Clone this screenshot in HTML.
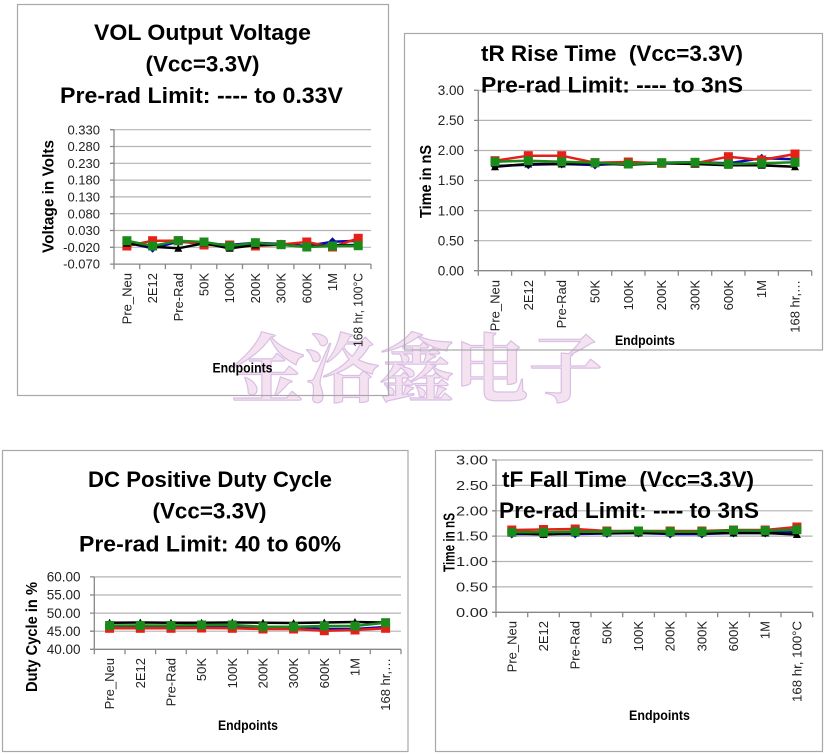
<!DOCTYPE html>
<html><head><meta charset="utf-8"><style>
html,body{margin:0;padding:0;background:#fff;}
svg{display:block;}
text{font-family:"Liberation Sans",Arial,sans-serif;}
.t{font-weight:bold;font-size:22px;fill:#000;}
.yl{font-weight:bold;font-size:16px;fill:#000;}
.ep{font-weight:bold;font-size:14px;fill:#000;}
.tk{font-size:13px;fill:#222;}
.xl{font-size:13px;fill:#222;}
.g{stroke:#b4b4b4;stroke-width:1.2;}
.ax{stroke:#888;stroke-width:1.3;fill:none;}
.box{fill:none;stroke:#a8a8a8;stroke-width:1.2;}
.sb{fill:none;stroke:#0a0ab4;stroke-width:2.5;marker-start:url(#mb);marker-mid:url(#mb);marker-end:url(#mb);}
.sr{fill:none;stroke:#e42018;stroke-width:2.5;marker-start:url(#mr);marker-mid:url(#mr);marker-end:url(#mr);}
.sk{fill:none;stroke:#000;stroke-width:2.5;marker-start:url(#mk);marker-mid:url(#mk);marker-end:url(#mk);}
.sg{fill:none;stroke:#1a8a1a;stroke-width:2.5;marker-start:url(#mg);marker-mid:url(#mg);marker-end:url(#mg);}
</style></head><body>
<svg width="825" height="755" viewBox="0 0 825 755" xmlns="http://www.w3.org/2000/svg">
<defs>
<marker id="mg" markerWidth="12" markerHeight="12" refX="6" refY="6" markerUnits="userSpaceOnUse" orient="0"><rect x="1.5" y="1.5" width="9" height="9" fill="#1a8a1a"/></marker>
<marker id="mr" markerWidth="12" markerHeight="12" refX="6" refY="6" markerUnits="userSpaceOnUse" orient="0"><rect x="1.5" y="1.5" width="9" height="9" fill="#e42018"/></marker>
<marker id="mb" markerWidth="12" markerHeight="12" refX="6" refY="6" markerUnits="userSpaceOnUse" orient="0"><path d="M6 1.5 L10.5 6 L6 10.5 L1.5 6 Z" fill="#0a0ab4"/></marker>
<marker id="mk" markerWidth="12" markerHeight="12" refX="6" refY="6" markerUnits="userSpaceOnUse" orient="0"><path d="M6 2 L10 9.5 L2 9.5 Z" fill="#000"/></marker>
</defs>

<!-- watermark -->
<text x="230" y="396" textLength="373" lengthAdjust="spacingAndGlyphs" style="font-family:'Noto Serif CJK SC','Noto Sans CJK SC',serif;font-weight:bold;font-size:75px;fill:#f5e2f1;stroke:#d9bfe3;stroke-width:1.2;">金洛鑫电子</text>

<!-- ============ Chart 1 ============ -->
<rect class="box" x="17.5" y="4.5" width="371" height="391"/>
<text class="t" x="202.5" y="40" text-anchor="middle" textLength="217" lengthAdjust="spacingAndGlyphs">VOL Output Voltage</text>
<text class="t" x="202.5" y="71.7" text-anchor="middle" textLength="114" lengthAdjust="spacingAndGlyphs">(Vcc=3.3V)</text>
<text class="t" x="201.5" y="103" text-anchor="middle" textLength="283" lengthAdjust="spacingAndGlyphs">Pre-rad Limit: ---- to 0.33V</text>
<g>
<line class="g" x1="114" x2="371" y1="129.7" y2="129.7"/>
<line class="g" x1="114" x2="371" y1="146.5" y2="146.5"/>
<line class="g" x1="114" x2="371" y1="163.3" y2="163.3"/>
<line class="g" x1="114" x2="371" y1="180.1" y2="180.1"/>
<line class="g" x1="114" x2="371" y1="196.9" y2="196.9"/>
<line class="g" x1="114" x2="371" y1="213.7" y2="213.7"/>
<line class="g" x1="114" x2="371" y1="230.5" y2="230.5"/>
<line class="g" x1="114" x2="371" y1="247.3" y2="247.3"/>
<line class="ax" x1="114" x2="371" y1="264.1" y2="264.1"/>
<path class="ax" d="M114 129.7V264.1 M110 129.7H114 M110 146.5H114 M110 163.3H114 M110 180.1H114 M110 196.9H114 M110 213.7H114 M110 230.5H114 M110 247.3H114 M110 264.1H114
M114 264.1v5 M139.7 264.1v5 M165.4 264.1v5 M191.1 264.1v5 M216.8 264.1v5 M242.5 264.1v5 M268.2 264.1v5 M293.9 264.1v5 M319.6 264.1v5 M345.3 264.1v5 M371 264.1v5"/>
</g>
<g class="tk" text-anchor="end">
<text x="100" y="134.3">0.330</text><text x="100" y="151.1">0.280</text><text x="100" y="167.9">0.230</text><text x="100" y="184.7">0.180</text><text x="100" y="201.5">0.130</text><text x="100" y="218.3">0.080</text><text x="100" y="235.1">0.030</text><text x="100" y="251.9">-0.020</text><text x="100" y="268.7">-0.070</text>
</g>
<g class="xl" text-anchor="end">
<text transform="translate(131.4,273) rotate(-90)">Pre_Neu</text>
<text transform="translate(157.1,273) rotate(-90)">2E12</text>
<text transform="translate(182.8,273) rotate(-90)">Pre-Rad</text>
<text transform="translate(208.5,273) rotate(-90)">50K</text>
<text transform="translate(234.2,273) rotate(-90)">100K</text>
<text transform="translate(259.9,273) rotate(-90)">200K</text>
<text transform="translate(285.6,273) rotate(-90)">300K</text>
<text transform="translate(311.3,273) rotate(-90)">600K</text>
<text transform="translate(337,273) rotate(-90)">1M</text>
<text transform="translate(362.7,273) rotate(-90)" textLength="74" lengthAdjust="spacingAndGlyphs">168 hr, 100°C</text>
</g>
<text class="yl" transform="translate(53.5,196.5) rotate(-90)" text-anchor="middle" textLength="113" lengthAdjust="spacingAndGlyphs">Voltage in Volts</text>
<text class="ep" x="242.5" y="372.5" text-anchor="middle" textLength="60" lengthAdjust="spacingAndGlyphs">Endpoints</text>
<polyline class="sb" points="126.9,242.7 152.6,248.3 178.3,241.7 204,243.3 229.7,245 255.4,242.7 281.1,244 306.8,246 332.5,241.7 358.2,240.7"/>
<polyline class="sr" points="126.9,246 152.6,240.7 178.3,240.7 204,245 229.7,245 255.4,246 281.1,244.5 306.8,242 332.5,247 358.2,238.3"/>
<polyline class="sk" points="126.9,243.3 152.6,246.7 178.3,248.3 204,243.3 229.7,248.3 255.4,245 281.1,244.7 306.8,246.7 332.5,245.3 358.2,245"/>
<polyline class="sg" points="126.9,240.7 152.6,246 178.3,240.7 204,242 229.7,246 255.4,242.7 281.1,244.7 306.8,247 332.5,246 358.2,245.7"/>

<!-- ============ Chart 2 ============ -->
<rect class="box" x="404.5" y="33.5" width="418" height="316.5"/>
<g>
<line class="g" x1="478.3" x2="811.7" y1="90.3" y2="90.3"/>
<line class="g" x1="478.3" x2="811.7" y1="120.4" y2="120.4"/>
<line class="g" x1="478.3" x2="811.7" y1="150.5" y2="150.5"/>
<line class="g" x1="478.3" x2="811.7" y1="180.5" y2="180.5"/>
<line class="g" x1="478.3" x2="811.7" y1="210.6" y2="210.6"/>
<line class="g" x1="478.3" x2="811.7" y1="240.7" y2="240.7"/>
<line class="ax" x1="478.3" x2="811.7" y1="270.7" y2="270.7"/>
<path class="ax" d="M478.3 90.3V270.7 M474 90.3H478.3 M474 120.4H478.3 M474 150.5H478.3 M474 180.5H478.3 M474 210.6H478.3 M474 240.7H478.3 M474 270.7H478.3
M478.3 270.7v5 M511.6 270.7v5 M545 270.7v5 M578.3 270.7v5 M611.7 270.7v5 M645 270.7v5 M678.3 270.7v5 M711.7 270.7v5 M745 270.7v5 M778.4 270.7v5 M811.7 270.7v5"/>
</g>
<text class="t" x="481" y="61" textLength="262" lengthAdjust="spacingAndGlyphs">tR Rise Time&#160; (Vcc=3.3V)</text>
<text class="t" x="481" y="92.5" textLength="262" lengthAdjust="spacingAndGlyphs">Pre-rad Limit: ---- to 3nS</text>
<g class="tk" text-anchor="end" style="font-size:13.5px">
<text x="464" y="95">3.00</text><text x="464" y="125.1">2.50</text><text x="464" y="155.2">2.00</text><text x="464" y="185.2">1.50</text><text x="464" y="215.3">1.00</text><text x="464" y="245.4">0.50</text><text x="464" y="275.4">0.00</text>
</g>
<g class="xl" text-anchor="end">
<text transform="translate(499.5,280) rotate(-90)">Pre_Neu</text>
<text transform="translate(532.8,280) rotate(-90)">2E12</text>
<text transform="translate(566.2,280) rotate(-90)">Pre-Rad</text>
<text transform="translate(599.5,280) rotate(-90)">50K</text>
<text transform="translate(632.8,280) rotate(-90)">100K</text>
<text transform="translate(666.2,280) rotate(-90)">200K</text>
<text transform="translate(699.5,280) rotate(-90)">300K</text>
<text transform="translate(732.9,280) rotate(-90)">600K</text>
<text transform="translate(766.2,280) rotate(-90)">1M</text>
<text transform="translate(799.5,280) rotate(-90)">168 hr,…</text>
</g>
<text class="yl" transform="translate(431,181.5) rotate(-90)" text-anchor="middle" textLength="73" lengthAdjust="spacingAndGlyphs">Time in nS</text>
<text class="ep" x="645" y="345" text-anchor="middle" textLength="60" lengthAdjust="spacingAndGlyphs">Endpoints</text>
<polyline class="sb" points="495,166 528.3,164.7 561.7,164 595,165 628.3,163.3 661.7,162.7 695,162.3 728.4,163.3 761.7,158.3 795,159.3"/>
<polyline class="sr" points="495,160.7 528.3,155.7 561.7,155.7 595,162.7 628.3,162 661.7,163.3 695,163.3 728.4,156.7 761.7,160 795,154"/>
<polyline class="sk" points="495,166.7 528.3,164 561.7,164 595,163.3 628.3,164.7 661.7,163.3 695,164 728.4,165.3 761.7,165.3 795,166.7"/>
<polyline class="sg" points="495,161.7 528.3,160.7 561.7,161.7 595,162.7 628.3,164 661.7,162.7 695,162.3 728.4,164 761.7,163.3 795,162.3"/>

<!-- ============ Chart 3 ============ -->
<rect class="box" x="2.5" y="450.5" width="405.5" height="301"/>
<text class="t" x="210" y="487" text-anchor="middle" textLength="244" lengthAdjust="spacingAndGlyphs">DC Positive Duty Cycle</text>
<text class="t" x="209.5" y="518.5" text-anchor="middle" textLength="114" lengthAdjust="spacingAndGlyphs">(Vcc=3.3V)</text>
<text class="t" x="210" y="551.5" text-anchor="middle" textLength="262" lengthAdjust="spacingAndGlyphs">Pre-rad Limit: 40 to 60%</text>
<g>
<line class="g" x1="94.3" x2="401" y1="576.9" y2="576.9"/>
<line class="g" x1="94.3" x2="401" y1="595" y2="595"/>
<line class="g" x1="94.3" x2="401" y1="613.1" y2="613.1"/>
<line class="g" x1="94.3" x2="401" y1="631.2" y2="631.2"/>
<line class="ax" x1="94.3" x2="401" y1="649.3" y2="649.3"/>
<path class="ax" d="M94.3 576.9V649.3 M90 576.9H94.3 M90 595H94.3 M90 613.1H94.3 M90 631.2H94.3 M90 649.3H94.3
M94.3 649.3v5 M125 649.3v5 M155.6 649.3v5 M186.3 649.3v5 M217 649.3v5 M247.7 649.3v5 M278.3 649.3v5 M309 649.3v5 M339.7 649.3v5 M370.3 649.3v5 M401 649.3v5"/>
</g>
<g class="tk" text-anchor="end" style="font-size:13.5px">
<text x="80.5" y="581.6">60.00</text><text x="80.5" y="599.7">55.00</text><text x="80.5" y="617.8">50.00</text><text x="80.5" y="635.9">45.00</text><text x="80.5" y="654">40.00</text>
</g>
<g class="xl" text-anchor="end">
<text transform="translate(114.1,658) rotate(-90)">Pre_Neu</text>
<text transform="translate(144.8,658) rotate(-90)">2E12</text>
<text transform="translate(175.5,658) rotate(-90)">Pre-Rad</text>
<text transform="translate(206.1,658) rotate(-90)">50K</text>
<text transform="translate(236.8,658) rotate(-90)">100K</text>
<text transform="translate(267.5,658) rotate(-90)">200K</text>
<text transform="translate(298.1,658) rotate(-90)">300K</text>
<text transform="translate(328.8,658) rotate(-90)">600K</text>
<text transform="translate(359.5,658) rotate(-90)">1M</text>
<text transform="translate(390.1,658) rotate(-90)">168 hr,…</text>
</g>
<text class="yl" transform="translate(37,637) rotate(-90)" text-anchor="middle" textLength="110" lengthAdjust="spacingAndGlyphs">Duty Cycle in %</text>
<text class="ep" x="248" y="730" text-anchor="middle" textLength="60" lengthAdjust="spacingAndGlyphs">Endpoints</text>
<polyline class="sb" points="109.6,627 140.3,627 171,627 201.6,627 232.3,627 263,628 293.6,628 324.3,629 355,629 385.6,627"/>
<polyline class="sr" points="109.6,628.3 140.3,628.3 171,628.3 201.6,628 232.3,628.3 263,629 293.6,629 324.3,630.7 355,630 385.6,628.3"/>
<polyline class="sk" points="109.6,622.7 140.3,622.5 171,622.7 201.6,622.7 232.3,622.5 263,622.7 293.6,623 324.3,622.5 355,622 385.6,622.5"/>
<polyline class="sg" points="109.6,625.5 140.3,625.5 171,625.5 201.6,625 232.3,625 263,626.7 293.6,626.7 324.3,626 355,626 385.6,622.7"/>

<!-- ============ Chart 4 ============ -->
<rect class="box" x="435.5" y="450.5" width="387" height="301"/>
<g>
<line class="g" x1="496" x2="812.7" y1="460" y2="460"/>
<line class="g" x1="496" x2="812.7" y1="485.4" y2="485.4"/>
<line class="g" x1="496" x2="812.7" y1="510.8" y2="510.8"/>
<line class="g" x1="496" x2="812.7" y1="536.1" y2="536.1"/>
<line class="g" x1="496" x2="812.7" y1="561.5" y2="561.5"/>
<line class="g" x1="496" x2="812.7" y1="586.9" y2="586.9"/>
<line class="ax" x1="496" x2="812.7" y1="612.3" y2="612.3"/>
<path class="ax" d="M496 460V612.3 M492 460H496 M492 485.4H496 M492 510.8H496 M492 536.1H496 M492 561.5H496 M492 586.9H496 M492 612.3H496
M496 612.3v5 M527.7 612.3v5 M559.3 612.3v5 M591 612.3v5 M622.7 612.3v5 M654.4 612.3v5 M686 612.3v5 M717.7 612.3v5 M749.4 612.3v5 M781 612.3v5 M812.7 612.3v5"/>
</g>
<text class="t" x="502" y="487" textLength="252" lengthAdjust="spacingAndGlyphs">tF Fall Time&#160; (Vcc=3.3V)</text>
<text class="t" x="499" y="518" textLength="260" lengthAdjust="spacingAndGlyphs">Pre-rad Limit: ---- to 3nS</text>
<g class="tk" text-anchor="end" style="font-size:13px">
<text x="488" y="464.5" textLength="32" lengthAdjust="spacingAndGlyphs">3.00</text><text x="488" y="489.9" textLength="32" lengthAdjust="spacingAndGlyphs">2.50</text><text x="488" y="515.3" textLength="32" lengthAdjust="spacingAndGlyphs">2.00</text><text x="488" y="540.6" textLength="32" lengthAdjust="spacingAndGlyphs">1.50</text><text x="488" y="566" textLength="32" lengthAdjust="spacingAndGlyphs">1.00</text><text x="488" y="591.4" textLength="32" lengthAdjust="spacingAndGlyphs">0.50</text><text x="488" y="616.8" textLength="32" lengthAdjust="spacingAndGlyphs">0.00</text>
</g>
<g class="xl" text-anchor="end">
<text transform="translate(516.3,621) rotate(-90)">Pre_Neu</text>
<text transform="translate(548,621) rotate(-90)">2E12</text>
<text transform="translate(579.7,621) rotate(-90)">Pre-Rad</text>
<text transform="translate(611.4,621) rotate(-90)">50K</text>
<text transform="translate(643,621) rotate(-90)">100K</text>
<text transform="translate(674.7,621) rotate(-90)">200K</text>
<text transform="translate(706.4,621) rotate(-90)">300K</text>
<text transform="translate(738,621) rotate(-90)">600K</text>
<text transform="translate(769.7,621) rotate(-90)">1M</text>
<text transform="translate(801.4,621) rotate(-90)" textLength="81" lengthAdjust="spacingAndGlyphs">168 hr, 100°C</text>
</g>
<text class="yl" transform="translate(454.5,542.5) rotate(-90)" text-anchor="middle" textLength="59" lengthAdjust="spacingAndGlyphs">Time in nS</text>
<text class="ep" x="659.5" y="720" text-anchor="middle" textLength="61" lengthAdjust="spacingAndGlyphs">Endpoints</text>
<polyline class="sb" points="511.8,534 543.5,534 575.2,534 606.9,533.5 638.5,533 670.2,534 701.9,534 733.5,533 765.2,533 796.9,532"/>
<polyline class="sr" points="511.8,530 543.5,529.5 575.2,529 606.9,531 638.5,531 670.2,531 701.9,531 733.5,530 765.2,530 796.9,527"/>
<polyline class="sk" points="511.8,533 543.5,534.5 575.2,533 606.9,533 638.5,533 670.2,533 701.9,533 733.5,533 765.2,533 796.9,534.5"/>
<polyline class="sg" points="511.8,532.3 543.5,532.3 575.2,531.7 606.9,531.7 638.5,531 670.2,531.7 701.9,531.7 733.5,530.3 765.2,530.7 796.9,529.7"/>
</svg>
</body></html>
